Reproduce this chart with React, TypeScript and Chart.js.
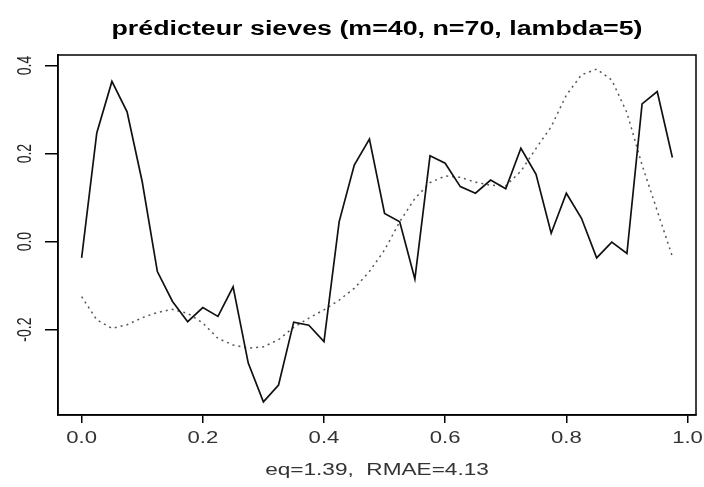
import React, { useEffect, useRef } from "react";
import { Chart, registerables } from "chart.js";

Chart.register(...registerables);

// sampling grid (m = 40 points on [0, 1))
const xGrid = [
  0, 0.025, 0.05, 0.075, 0.1, 0.125, 0.15, 0.175, 0.2, 0.225,
  0.25, 0.275, 0.3, 0.325, 0.35, 0.375, 0.4, 0.425, 0.45, 0.475,
  0.5, 0.525, 0.55, 0.575, 0.6, 0.625, 0.65, 0.675, 0.7, 0.725,
  0.75, 0.775, 0.8, 0.825, 0.85, 0.875, 0.9, 0.925, 0.95, 0.975,
];

// sieves predictor (solid line)
const predictor = [
  -0.037, 0.247, 0.364, 0.295, 0.136, -0.068, -0.136, -0.182, -0.15, -0.17,
  -0.103, -0.276, -0.364, -0.326, -0.183, -0.19, -0.227, 0.045, 0.174, 0.233,
  0.064, 0.045, -0.085, 0.195, 0.178, 0.125, 0.11, 0.14, 0.12, 0.212,
  0.153, 0.019, 0.11, 0.053, -0.037, -0.001, -0.027, 0.313, 0.341, 0.191,
];

// true function (dotted line)
const trueCurve = [
  -0.125, -0.178, -0.197, -0.189, -0.173, -0.161, -0.154, -0.163, -0.185, -0.22,
  -0.235, -0.242, -0.239, -0.223, -0.195, -0.174, -0.155, -0.133, -0.106, -0.068,
  -0.019, 0.045, 0.098, 0.134, 0.149, 0.146, 0.135, 0.128, 0.127, 0.16,
  0.212, 0.261, 0.333, 0.379, 0.392, 0.367, 0.293, 0.174, 0.07, -0.034,
];

const xTicks = [0, 0.2, 0.4, 0.6, 0.8, 1.0];
const yTicks = [-0.2, 0, 0.2, 0.4];
const xTickLabels = ["0.0", "0.2", "0.4", "0.6", "0.8", "1.0"];
const yTickLabels = ["-0.2", "0.0", "0.2", "0.4"];
const xRange = [-0.039, 1.014];
const yRange = [-0.394, 0.424];

const titleText = "prédicteur sieves (m=40, n=70, lambda=5)";
const subText = "eq=1.39,  RMAE=4.13";

export default function App() {
  const ref = useRef<HTMLCanvasElement>(null);

  useEffect(() => {
    document.body.style.margin = "0";
    const canvas = ref.current;
    if (!canvas) return;

    const textPlugin = {
      id: "rtext",
      afterDraw(chart: any) {
        const ctx = chart.ctx as CanvasRenderingContext2D;
        const a = chart.chartArea;
        const xs = chart.scales.x;
        const ys = chart.scales.y;
        const cx = (a.left + a.right) / 2;

        ctx.save();
        ctx.strokeStyle = "#000";
        ctx.lineWidth = 1.5;
        ctx.strokeRect(a.left, a.top, a.right - a.left, a.bottom - a.top);
        ctx.restore();

        // title
        ctx.save();
        ctx.fillStyle = "#000";
        ctx.textAlign = "center";
        ctx.textBaseline = "middle";
        ctx.font = "bold 20px 'Liberation Sans'";
        ctx.translate(cx, 29);
        ctx.scale(1.34, 1);
        ctx.fillText(titleText, 0, 0);
        ctx.restore();

        // subtitle
        ctx.save();
        ctx.fillStyle = "#333";
        ctx.textAlign = "center";
        ctx.textBaseline = "middle";
        ctx.font = "17px 'Liberation Sans'";
        ctx.translate(cx, 470);
        ctx.scale(1.33, 1);
        ctx.fillText(subText, 0, 0);
        ctx.restore();

        // x tick labels
        xTicks.forEach((v, i) => {
          const px = xs.getPixelForValue(v);
          ctx.save();
          ctx.fillStyle = "#333";
          ctx.textAlign = "center";
          ctx.textBaseline = "middle";
          ctx.font = "17px 'Liberation Sans'";
          ctx.translate(px, 438);
          ctx.scale(1.3, 1);
          ctx.fillText(xTickLabels[i], 0, 0);
          ctx.restore();
        });

        // y tick labels (rotated, reading upwards)
        yTicks.forEach((v, i) => {
          const py = ys.getPixelForValue(v);
          ctx.save();
          ctx.fillStyle = "#222";
          ctx.textAlign = "center";
          ctx.textBaseline = "middle";
          ctx.font = "14px 'Liberation Sans'";
          ctx.translate(25, py);
          ctx.rotate(-Math.PI / 2);
          ctx.scale(1, 1.45);
          ctx.fillText(yTickLabels[i], 0, 0);
          ctx.restore();
        });
      },
    };

    const chart = new Chart(canvas, {
      type: "line",
      data: {
        datasets: [
          {
            label: "predicteur",
            data: xGrid.map((x, i) => ({ x, y: predictor[i] })),
            borderColor: "#111",
            borderWidth: 1.7,
            pointRadius: 0,
            tension: 0,
            fill: false,
          },
          {
            label: "vraie",
            data: xGrid.map((x, i) => ({ x, y: trueCurve[i] })),
            borderColor: "#555",
            borderWidth: 1.5,
            borderDash: [2, 4],
            pointRadius: 0,
            tension: 0,
            fill: false,
          },
        ],
      },
      options: {
        responsive: false,
        animation: false,
        layout: { padding: { top: 55, right: 8, left: 0, bottom: 0 } },
        plugins: {
          legend: { display: false },
          title: { display: false },
          tooltip: { enabled: false },
        },
        scales: {
          x: {
            type: "linear",
            min: xRange[0],
            max: xRange[1],
            afterBuildTicks: (s: any) => {
              s.ticks = xTicks.map((v) => ({ value: v }));
            },
            afterFit: (s: any) => {
              s.height = 72;
            },
            grid: {
              drawOnChartArea: false,
              drawTicks: true,
              tickLength: 8,
              color: "#000",
              lineWidth: 1.5,
            },
            border: { display: true, color: "#000", width: 1.5 },
            ticks: { display: false, autoSkip: false, maxRotation: 0 },
          },
          y: {
            type: "linear",
            min: yRange[0],
            max: yRange[1],
            afterBuildTicks: (s: any) => {
              s.ticks = yTicks.map((v) => ({ value: v }));
            },
            afterFit: (s: any) => {
              s.width = 58;
            },
            grid: {
              drawOnChartArea: false,
              drawTicks: true,
              tickLength: 13,
              color: "#000",
              lineWidth: 1.5,
            },
            border: { display: true, color: "#000", width: 1.5 },
            ticks: { display: false, autoSkip: false },
          },
        },
      },
      plugins: [textPlugin],
    } as any);

    return () => chart.destroy();
  }, []);

  return <canvas ref={ref} width={704} height={487} style={{ display: "block" }} />;
}
